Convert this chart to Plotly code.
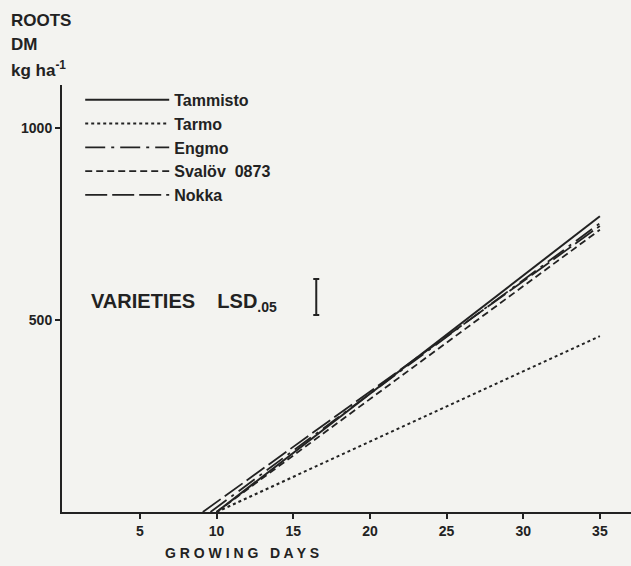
import plotly.graph_objects as go

# Wachstumslinien der Sorten (Start- und Endpunkt)
varieties = ["Tammisto", "Tarmo", "Engmo", "Svalöv  0873", "Nokka"]
days_start = [10, 10, 9.6, 10, 9.1]
days_end = [35, 35, 35, 35, 35]
dm_start = [0, 0, 0, 0, 0]
dm_end = [770, 458, 752, 735, 745]

x_ticks = [5, 10, 15, 20, 25, 30, 35]
y_ticks = [500, 1000]

lsd_day = 16.5
lsd_center = 560
lsd_value = 94

dashes = ["solid", "dot", "20px,6px,3px,6px", "7px,4px", "22px,5px"]
widths = [2, 2, 1.8, 1.8, 1.8]

ink = "#222222"
bg = "#f3f3f0"
font = "Liberation Sans, Arial, sans-serif"

fig = go.Figure()

for name, x0, x1, y0, y1, dash, w in zip(varieties, days_start, days_end, dm_start, dm_end, dashes, widths):
    fig.add_trace(go.Scatter(
        x=[x0, x1],
        y=[y0, y1],
        mode="lines",
        name=name,
        line=dict(color=ink, width=w, dash=dash),
    ))

# LSD-Balken
fig.add_trace(go.Scatter(
    x=[lsd_day],
    y=[lsd_center],
    mode="markers",
    marker=dict(size=1, color="rgba(0,0,0,0)"),
    error_y=dict(type="data", array=[lsd_value / 2], color=ink, thickness=2, width=3),
    showlegend=False,
    hoverinfo="skip",
))

fig.add_annotation(
    x=1.7, y=545, xref="x", yref="y",
    text="<b>VARIETIES    LSD<sub>.05</sub></b>",
    showarrow=False, xanchor="left", yanchor="middle",
    font=dict(family=font, size=20, color=ink),
)

# Achsentitel y (oben links)
for i, line in enumerate(["ROOTS", "DM", "kg ha<sup>-1</sup>"]):
    fig.add_annotation(
        x=-0.093, y=1.152 - i * 0.057, xref="paper", yref="paper",
        text="<b>" + line + "</b>",
        showarrow=False, xanchor="left", yanchor="middle", align="left",
        font=dict(family=font, size=17, color=ink),
    )

fig.add_annotation(
    x=0.317, y=-0.095, xref="paper", yref="paper",
    text="<b>G R O W I N G   D A Y S</b>",
    showarrow=False, xanchor="center", yanchor="middle",
    font=dict(family=font, size=14, color=ink),
)

fig.update_layout(
    width=631,
    height=566,
    paper_bgcolor=bg,
    plot_bgcolor=bg,
    margin=dict(l=62, r=0, t=85, b=54),
    showlegend=True,
    legend=dict(
        x=0.032, y=1.005, xanchor="left", yanchor="top",
        bgcolor="rgba(0,0,0,0)",
        font=dict(family=font, size=16, color=ink, weight="bold"),
        itemwidth=84,
        tracegroupgap=0,
    ),
    font=dict(family=font, color=ink),
)

fig.update_xaxes(
    range=[-0.085, 37.03],
    tickvals=x_ticks,
    ticks="outside", ticklen=5, tickwidth=2, tickcolor=ink,
    showline=True, linecolor=ink, linewidth=2,
    showgrid=False, zeroline=False,
    tickfont=dict(family=font, size=14, color=ink, weight="bold"),
)
fig.update_yaxes(
    range=[0, 1112],
    tickvals=y_ticks,
    ticks="outside", ticklen=5, tickwidth=2, tickcolor=ink,
    showline=True, linecolor=ink, linewidth=2,
    showgrid=False, zeroline=False,
    tickfont=dict(family=font, size=14, color=ink, weight="bold"),
)

fig.write_html(
    "out.html",
    config={"displayModeBar": False},
    post_script="document.body.style.margin='0';",
)
